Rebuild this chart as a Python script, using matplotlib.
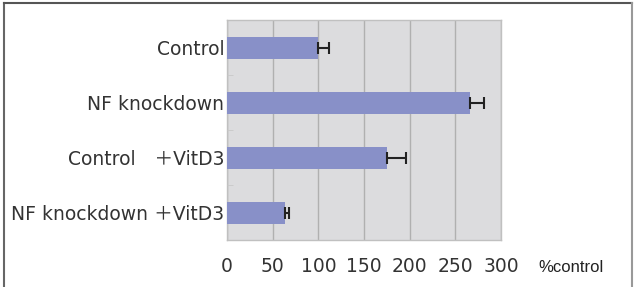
import matplotlib.pyplot as plt
from matplotlib.lines import Line2D

plt.rcParams['font.family'] = ['DejaVu Sans', 'Noto Sans CJK JP']

labels = ['Control', 'NF knockdown', 'Control\u3000＋VitD3', 'NF knockdown ＋VitD3']
values = [100, 266, 175, 63]
errors = [12, 15, 21, 5]
xticks = [0, 50, 100, 150, 200, 250, 300]

fig = plt.figure(figsize=(6.36, 2.87), dpi=100)
ax = fig.add_axes([227/636, 1 - 240/287, 274/636, 220/287])

ypos = list(range(len(labels)))
ax.barh(ypos, values, height=0.4, color='#8890c8', zorder=3,
        xerr=[[0]*len(errors), errors],
        error_kw=dict(ecolor='#222222', elinewidth=1.5, capsize=4, capthick=1.5, zorder=4))

ax.set_xlim(0, 300)
ax.set_ylim(3.5, -0.5)
ax.set_facecolor('#dcdcde')
ax.set_xticks(xticks)
ax.set_xticklabels([str(t) for t in xticks], fontsize=13.5, color='#333333')
ax.xaxis.grid(True, color='#b0b0b0', linewidth=1, zorder=0)
ax.tick_params(axis='x', length=0, pad=12)

ax.set_yticks(ypos)
ax.set_yticklabels(labels, fontsize=13.5, color='#333333')
ax.set_yticks([0.5, 1.5, 2.5], minor=True)
ax.tick_params(axis='y', which='major', length=0, pad=2)
ax.tick_params(axis='y', which='minor', length=4, direction='in', color='#c8c8c8')
ax.yaxis.set_zorder(5)

for s in ax.spines.values():
    s.set_color('#c0c0c0')
    s.set_linewidth(1)

fig.text(538/636, 1 - 267/287, '%control', fontsize=12, family='Liberation Sans',
         va='center', ha='left', color='#222222')

# outer frame
fig.add_artist(Line2D([4/636, 4/636], [0, 1 - 3/287], transform=fig.transFigure, color='#666666', lw=1.5))
fig.add_artist(Line2D([4/636, 632/636], [1 - 3/287, 1 - 3/287], transform=fig.transFigure, color='#555555', lw=1.5))
fig.add_artist(Line2D([632/636, 632/636], [0, 1 - 3/287], transform=fig.transFigure, color='#999999', lw=1.5))

fig.savefig('out.png', dpi=100)
